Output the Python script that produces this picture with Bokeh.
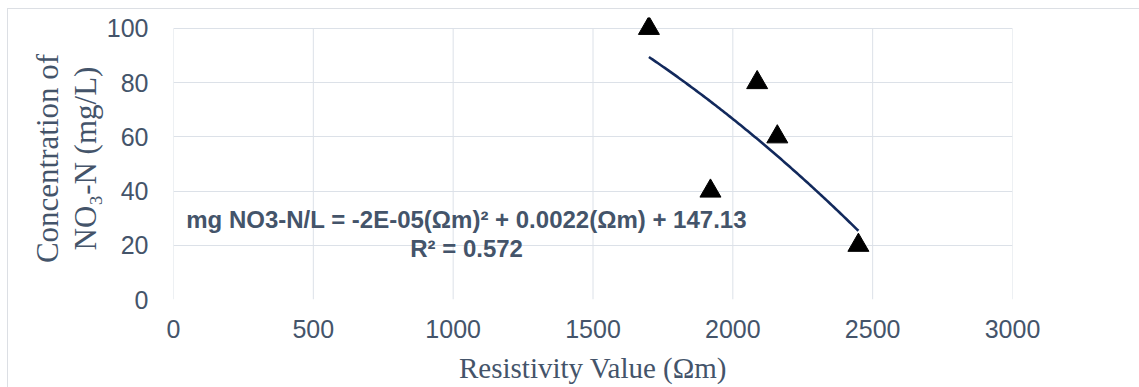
import numpy as np
from bokeh.plotting import figure
from bokeh.models import Range1d, Label, FixedTicker, Title
from bokeh.embed import file_html
from bokeh.resources import INLINE

# ---- data ----
resistivity = [1700, 1920, 2087, 2159, 2449]     # Ωm
no3n = [100, 40, 80, 60, 20]                      # mg/L
x_ticks = [0, 500, 1000, 1500, 2000, 2500, 3000]
y_ticks = [0, 20, 40, 60, 80, 100]
equation_text = "mg NO3-N/L = -2E-05(Ωm)² + 0.0022(Ωm) + 147.13"
r2_text = "R² = 0.572"
x_title = "Resistivity Value (Ωm)"
y_title_1 = "Concentration of"
y_title_2 = "NO₃-N (mg/L)"

# polynomial (order 2) trendline fitted to the data, like the original chart
coef = np.polyfit(resistivity, no3n, 2)
trend_x = np.linspace(min(resistivity), max(resistivity), 120)
trend_y = np.polyval(coef, trend_x)

GRID = "#DCE1E8"
TXT = "#44546A"
Y_MAX = y_ticks[-1]
Y_PAD = 4  # headroom so the top marker is not clipped by the frame

p = figure(
    frame_width=839, frame_height=282,
    min_border_left=165, min_border_right=127,
    min_border_top=8, min_border_bottom=88,
    x_range=Range1d(x_ticks[0], x_ticks[-1]), y_range=Range1d(0, Y_MAX + Y_PAD),
    output_backend="svg", toolbar_location=None,
    background_fill_color="white", border_fill_color="white",
)
p.margin = (8, 0, 0, 7)
p.styles = {"border-left": "1px solid #DCDFE4", "border-top": "1px solid #DCDFE4"}

p.outline_line_color = None

for ax in (p.xaxis[0], p.yaxis[0]):
    ax.axis_line_color = None
    ax.major_tick_line_color = None
    ax.minor_tick_line_color = None
    ax.major_tick_out = 0
    ax.major_tick_in = 0
    ax.major_label_text_font = "Liberation Sans"
    ax.major_label_text_font_size = "25px"
    ax.major_label_text_color = TXT

p.xaxis.ticker = FixedTicker(ticks=x_ticks)
p.yaxis.ticker = FixedTicker(ticks=y_ticks)
p.xaxis.major_label_standoff = 20
p.yaxis.major_label_standoff = 25

p.xaxis.axis_label = x_title
p.xaxis.axis_label_text_font = "Liberation Serif"
p.xaxis.axis_label_text_font_size = "29px"
p.xaxis.axis_label_text_font_style = "normal"
p.xaxis.axis_label_text_color = TXT
p.xaxis.axis_label_standoff = 11

p.yaxis.axis_label = y_title_2
p.yaxis.axis_label_text_font = "Liberation Serif"
p.yaxis.axis_label_text_font_size = "31px"
p.yaxis.axis_label_text_font_style = "normal"
p.yaxis.axis_label_text_color = TXT
p.yaxis.axis_label_standoff = 1

p.add_layout(Title(text=y_title_1, align="center", text_font="Liberation Serif",
                   text_font_size="31px", text_font_style="normal",
                   text_color=TXT, standoff=0), "left")

# grid: horizontal lines from the y ticker, vertical lines limited to 0..100
p.xgrid.grid_line_color = None
p.ygrid.grid_line_color = GRID
p.ygrid.grid_line_width = 1
p.segment(x0=x_ticks, y0=[0] * len(x_ticks), x1=x_ticks, y1=[Y_MAX] * len(x_ticks),
          line_color=GRID, line_width=1)

# trendline
p.line(trend_x, trend_y, line_color="#12295C", line_width=2.6)

# data points
p.scatter(resistivity, no3n, marker="triangle", size=21,
          fill_color="black", line_color="black")

# equation + R²
p.add_layout(Label(x=1048, y=29.4, text=equation_text, text_align="center",
                   text_baseline="alphabetic", text_font="Liberation Sans",
                   text_font_style="bold", text_font_size="24px", text_color=TXT))
p.add_layout(Label(x=1048, y=18.9, text=r2_text, text_align="center",
                   text_baseline="alphabetic", text_font="Liberation Sans",
                   text_font_style="bold", text_font_size="24px", text_color=TXT))

open("out.html", "w").write(file_html(p, INLINE))
